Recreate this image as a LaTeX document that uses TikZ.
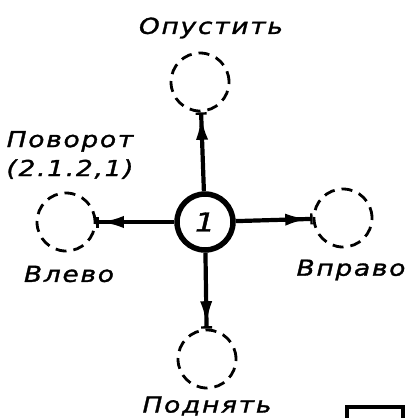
\documentclass[tikz,border=0pt]{standalone}
\usepackage{fontspec}
\setmainfont{DejaVu Sans}
\newfontfamily\gost[LetterSpace=8,FakeStretch=1.2,FakeBold=1.5]{DejaVu Sans}
\usetikzlibrary{arrows.meta}
\tikzset{
  lbl/.style={font=\gost\itshape\fontsize{22}{29}\selectfont, inner sep=0pt},
  place/.style={draw, circle, line width=2.8pt, dash pattern=on 11pt off 7pt, minimum size=58pt, inner sep=0pt},
  move/.style={line width=4.2pt, -{Latex[length=25pt,width=12pt]Bar[width=11pt,line width=2.4pt]}}
}
\begin{document}
\begin{tikzpicture}[x=1pt,y=-1pt]
\useasboundingbox (0,0) rectangle (411,418);
\node[draw, circle, line width=5.5pt, minimum size=56pt, inner sep=0pt, font=\gost\itshape\fontsize{26}{26}\selectfont] (1) at (205,222) {1};
\node[place] (up) at (200,82) {};
\node[place] (left) at (66,222) {};
\node[place] (right) at (343,218) {};
\node[place] (down) at (207,359) {};

\node[lbl] (l1) at (211,28) {Опустить};
\node[lbl, align=center] (l2) at (70,155) {Поворот\\(2.1.2,1)};
\node[lbl] (l3) at (69,274) {Влево};
\node[lbl] (l4) at (351,270) {Вправо};
\node[lbl] (l5) at (207,406) {Поднять};

\path[draw,move] (1) -- (up);
\path[draw,move] (1) -- (left);
\path[draw,move] (1) -- (right);
\path[draw,move] (1) -- (down);

\draw[line width=4pt] (347,440) -- (347,407) -- (403,407) -- (403,440);
\end{tikzpicture}
\end{document}
